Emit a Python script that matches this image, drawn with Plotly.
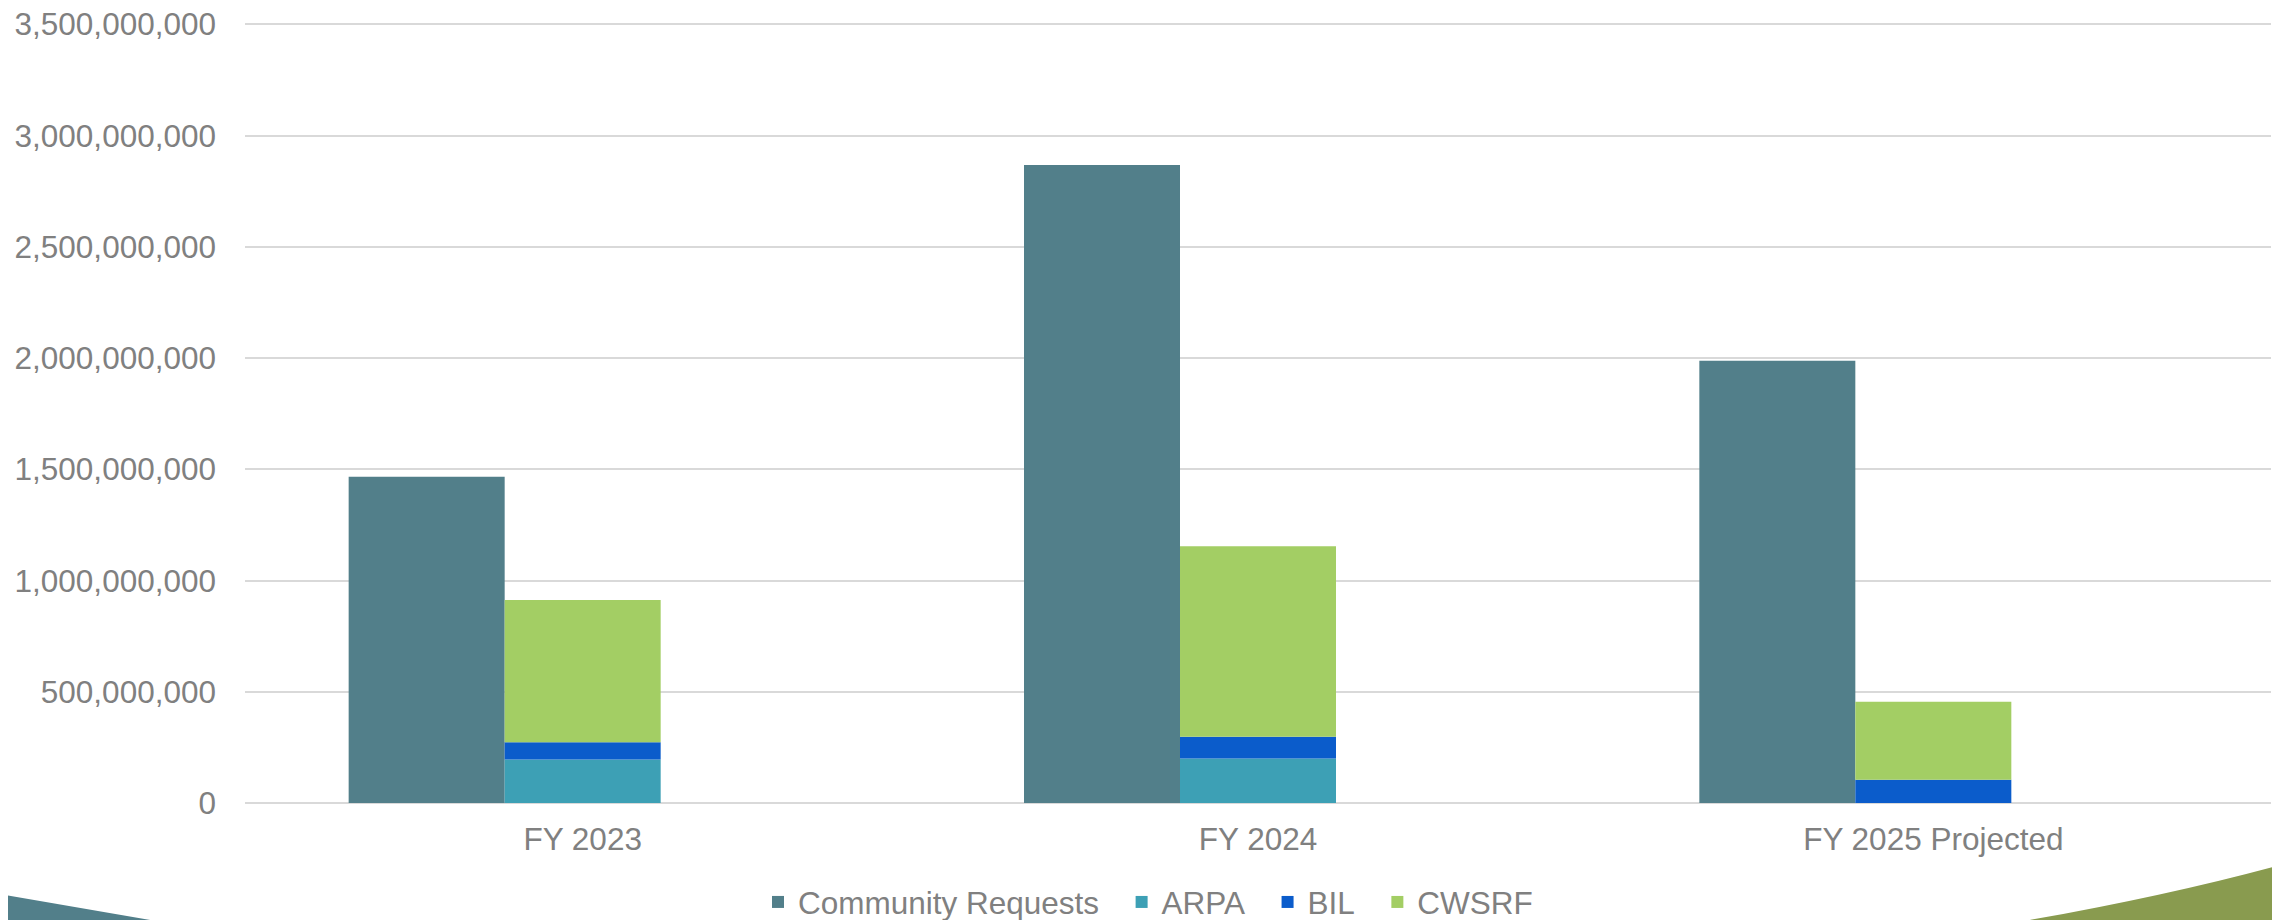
import plotly.graph_objects as go

# data
years = ["FY 2023", "FY 2024", "FY 2025 Projected"]
community_requests = [1467000000, 2868000000, 1988000000]
arpa = [195000000, 200000000, 0]
bil = [78000000, 98000000, 105000000]
cwsrf = [640000000, 856000000, 350000000]

# stacked funding bars sit on top of each other
bil_base = arpa
cwsrf_base = [a + b for a, b in zip(arpa, bil)]

bar_w = 0.231
font = "Liberation Sans, Arial, sans-serif"
grey = "#808080"
pad = "\u00a0\u00a0"  # wider gap between legend entries

fig = go.Figure()
fig.add_trace(go.Bar(name="Community Requests" + pad, x=years, y=community_requests,
                     width=bar_w, offset=-1.5 * bar_w, marker_color="#527F8A",
                     marker_line_width=0))
fig.add_trace(go.Bar(name="ARPA" + pad, x=years, y=arpa,
                     width=bar_w, offset=-0.5 * bar_w, marker_color="#3DA0B5",
                     marker_line_width=0))
fig.add_trace(go.Bar(name="BIL" + pad, x=years, y=bil, base=bil_base,
                     width=bar_w, offset=-0.5 * bar_w, marker_color="#0B5CCB",
                     marker_line_width=0))
fig.add_trace(go.Bar(name="CWSRF", x=years, y=cwsrf, base=cwsrf_base,
                     width=bar_w, offset=-0.5 * bar_w, marker_color="#A3CE64",
                     marker_line_width=0))

# decorative swooshes in the bottom corners
fig.add_shape(type="path", xref="paper", yref="paper", layer="below",
              path="M -0.125,-0.1146 L -0.041,-0.152 L -0.125,-0.152 Z",
              fillcolor="#527F8A", line_width=0)
fig.add_shape(type="path", xref="paper", yref="paper", layer="below",
              path="M 0.881,-0.152 L 0.881,-0.1494 Q 0.9502,-0.1175 1.0044,-0.0792 L 1.01,-0.0792 L 1.01,-0.152 Z",
              fillcolor="#899B4F", line_width=0)

# page body adds an 8px offset, so the figure is 8px smaller
fig.update_layout(
    width=2272, height=912,
    barmode="overlay",
    paper_bgcolor="white", plot_bgcolor="white",
    margin=dict(l=237, r=9, t=12, b=117, autoexpand=False),
    font=dict(family=font, size=31.5, color=grey),
    showlegend=True,
    legend=dict(orientation="h", x=0.4457, xanchor="center", y=-0.1264, yanchor="middle",
                traceorder="normal", font=dict(size=31.5, color=grey),
                itemwidth=30, bgcolor="rgba(0,0,0,0)"),
)
fig.update_xaxes(showgrid=False, showline=False, ticks="", ticklabelstandoff=14,
                 tickfont=dict(size=31.5, color=grey), range=[-0.5, 2.5])
fig.update_yaxes(range=[0, 3520000000], tickvals=[0, 500000000, 1000000000, 1500000000,
                 2000000000, 2500000000, 3000000000, 3500000000], tickformat=",",
                 showgrid=True, gridcolor="#D9D9D9", gridwidth=1.6,
                 zeroline=True, zerolinecolor="#D9D9D9", zerolinewidth=1.6,
                 showline=False, ticks="", ticklabelstandoff=28,
                 ticklabeloverflow="allow",
                 tickfont=dict(size=31.5, color=grey))

fig.write_html("out.html")
